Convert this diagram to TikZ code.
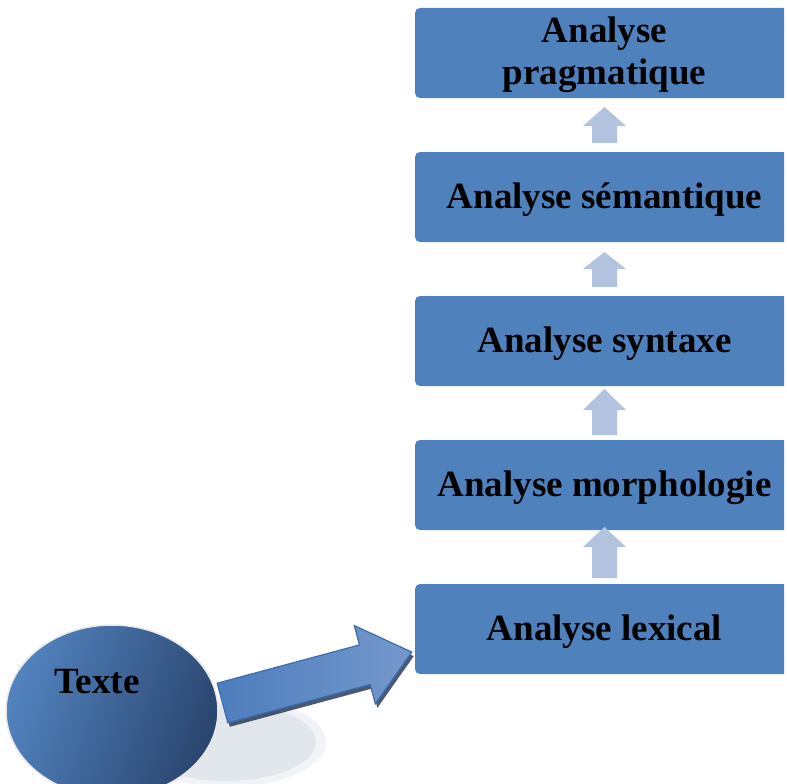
\documentclass[tikz,border=0pt]{standalone}
\usepackage{fontspec}
\setmainfont{Liberation Serif}
\usetikzlibrary{shapes.geometric,calc}

\definecolor{boxblue}{HTML}{4F81BD}
\definecolor{stepup}{HTML}{B3C3DF}
\definecolor{ellLight}{HTML}{5283BF}
\definecolor{ellDark}{HTML}{2A456E}
\definecolor{ellEdge}{HTML}{E8E8E8}
\definecolor{arrEdge}{HTML}{3D6DB0}
\definecolor{arrL}{HTML}{4D7DBC}
\definecolor{arrR}{HTML}{7598CC}
\definecolor{arrShadow}{HTML}{2A3C58}
\definecolor{floor}{HTML}{E2E7EE}
\definecolor{floorEdge}{HTML}{F1F3F7}

\tikzset{
  stage/.style={rectangle, rounded corners=5pt, fill=boxblue,
    minimum width=379pt, minimum height=90pt, inner sep=0pt},
  labeltext/.style={font=\fontsize{37}{42}\selectfont\bfseries, text=black, inner sep=0pt},
  source/.style={ellipse, minimum width=212pt, minimum height=172pt, inner sep=0pt,
    left color=ellLight, right color=ellDark, shading angle=70,
    draw=ellEdge, line width=1.5pt},
  bigarrow/.style={left color=arrL, right color=arrR, draw=arrEdge, line width=1.2pt, line join=miter},
}

% upward step arrow: tip y, head base y, shaft bottom y
\newcommand{\steparrow}[3]{%
  \fill[stepup] (592,#3) -- (592,#2) -- (583,#2) -- (604.5,#1)
    -- (626,#2) -- (617,#2) -- (617,#3) -- cycle;}

% outline of the block arrow, tail centre at the local origin
\newcommand{\blockarrowpath}{(0,-20.5) -- (147.4,-20.5) -- (147.4,-40.5) -- (196,0)
    -- (147.4,40.5) -- (147.4,20.5) -- (0,20.5) -- cycle}

\begin{document}
\begin{tikzpicture}[x=1pt,y=-1pt]
\useasboundingbox (0,0) rectangle (787,784);
\begin{scope}
\clip (0,0) rectangle (784,784);

% floor shadow behind the source ellipse, with a soft rim
\fill[floorEdge] (228,742) ellipse [x radius=98, y radius=45];
\fill[floor] (226,742) ellipse [x radius=90, y radius=39];

% processing stages
\node[stage] (prag)  at (604.5,53)  {};
\node[stage] (sem)   at (604.5,197) {};
\node[stage] (synt)  at (604.5,341) {};
\node[stage] (morph) at (604.5,485) {};
\node[stage] (lex)   at (604.5,629) {};
\node[labeltext, align=center] (pragtxt) at ($(prag)+(0,2)$) {Analyse\\pragmatique};
\node[labeltext] (semtxt)   at ($(sem)+(0,3)$)   {Analyse sémantique};
\node[labeltext] (synttxt)  at ($(synt)+(0,3)$)  {Analyse syntaxe};
\node[labeltext] (morphtxt) at ($(morph)+(0,3)$) {Analyse morphologie};
\node[labeltext] (lextxt)   at ($(lex)+(0,3)$)   {Analyse lexical};

% upward arrows between stages
\steparrow{107}{126}{143}
\steparrow{252}{269}{287}
\steparrow{389}{410}{435}
\steparrow{527}{547}{578}

% source text
\node[source] (src) at (112,711) {};
\node[labeltext] (srclabel) at (97,682) {Texte};

% block arrow from the source into the lexical stage
\coordinate (tailpt) at (222.5,703);
\begin{scope}[shift={($(tailpt)+(2,4)$)}, rotate=15.06]
  \fill[arrShadow, opacity=0.85] \blockarrowpath;
\end{scope}
\begin{scope}[shift={(tailpt)}, rotate=15.06]
  \path[bigarrow] \blockarrowpath;
\end{scope}
\end{scope}
\end{tikzpicture}
\end{document}
